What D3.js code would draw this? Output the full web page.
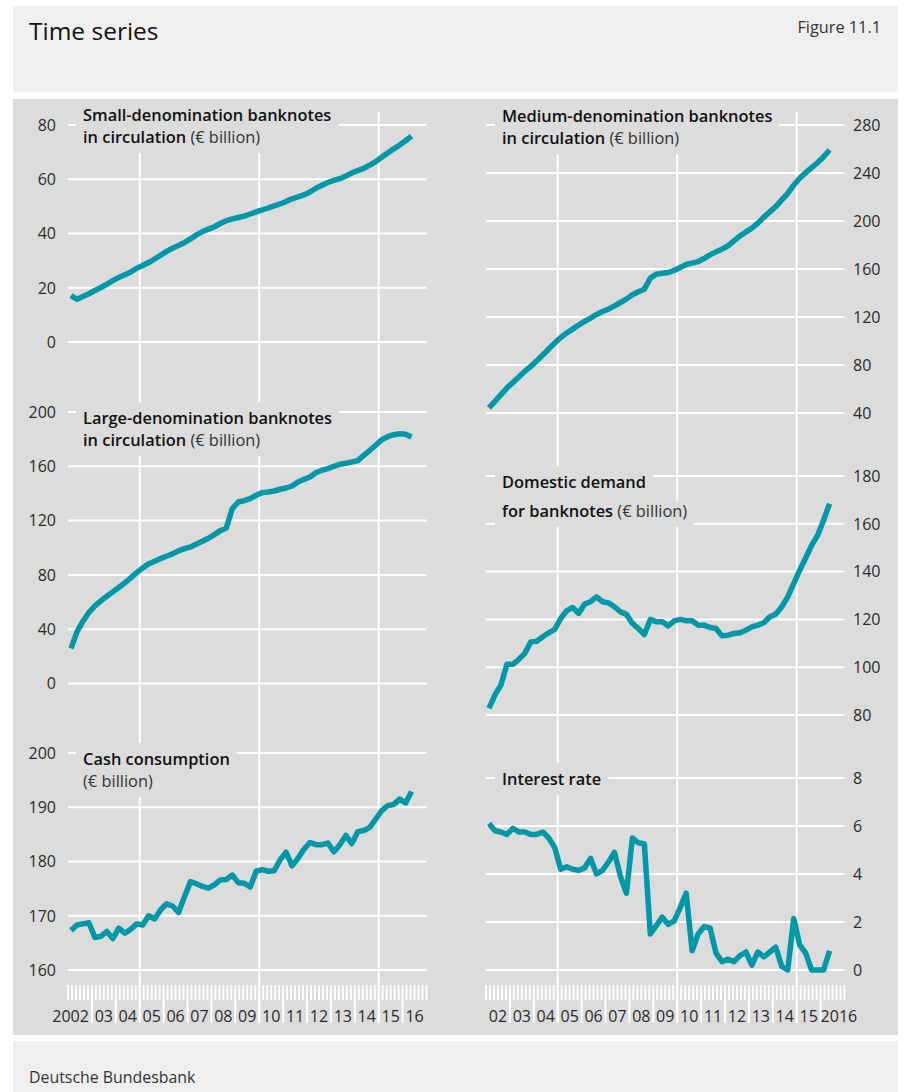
<!DOCTYPE html>
<html><head><meta charset="utf-8">
<script src="https://cdn.jsdelivr.net/npm/d3@7"></script>
<style>
body{margin:0;background:#fff;}
svg{display:block;}
text{font-family:"Open Sans",sans-serif;}
</style>
</head><body>
<svg id="chart" width="911" height="1092"></svg>
<script>
// ---------------- DATA (quarterly, 2002Q1 – 2016Q2) ----------------
const startYear = 2002;
const endYear = 2017;

const smallDenom = [17.1,15.8,16.8,17.8,19.0,20.1,21.3,22.6,23.8,24.8,25.8,27.2,28.2,29.3,30.6,32.0,33.4,34.6,35.6,36.7,38.0,39.5,40.7,41.6,42.5,43.7,44.7,45.4,45.9,46.4,47.2,48.0,48.7,49.4,50.2,50.9,51.8,52.8,53.5,54.2,55.3,56.7,57.8,58.8,59.6,60.2,61.2,62.3,63.2,64.0,65.2,66.5,68.1,69.7,71.2,72.6,74.2,75.9];

const largeDenom = [25.8,38.0,45.9,52.3,57.2,60.9,64.3,67.5,70.7,74.1,77.8,81.7,85.2,88.1,90.1,92.0,93.7,95.5,97.7,99.4,100.6,102.8,104.8,107.0,109.7,112.6,114.6,128.8,133.7,134.7,136.2,138.7,140.6,141.1,141.8,143.1,144.0,145.5,148.5,150.4,152.1,155.3,157.1,158.3,160.0,161.5,162.2,163.2,164.2,168.1,171.8,175.5,179.6,181.8,183.3,184.0,183.6,181.6];

const cashConsumption = [167.3,168.3,168.5,168.7,166.0,166.2,167.1,165.8,167.7,166.8,167.5,168.5,168.3,170.0,169.4,171.1,172.2,171.8,170.6,173.5,176.3,175.9,175.4,175.1,175.7,176.6,176.7,177.5,176.1,176.0,175.3,178.2,178.5,178.2,178.3,180.3,181.7,179.2,180.6,182.3,183.5,183.1,183.1,183.4,181.8,183.1,184.8,183.3,185.5,185.7,186.3,187.8,189.4,190.3,190.5,191.5,190.8,192.9];

const mediumDenom = [44.2,49.7,55.3,60.8,65.5,70.0,74.7,78.8,83.6,88.3,93.3,98.3,103.0,106.6,109.9,113.3,116.3,119.1,122.1,124.6,126.6,129.3,132.1,134.9,138.5,141.0,143.2,152.4,155.7,156.5,157.1,158.8,161.3,163.8,164.9,166.2,168.7,171.8,174.3,176.5,179.3,183.5,187.6,190.9,194.0,198.2,203.2,207.6,212.0,217.6,223.1,229.8,235.6,240.3,244.5,248.7,253.6,259.2];

const domesticDemand = [82.8,88.4,92.5,101.2,101.2,103.3,105.8,110.6,110.9,112.7,114.4,115.8,120.4,123.6,125.0,122.5,126.4,127.4,129.4,127.4,126.9,125.3,123.2,122.1,118.3,116.2,113.7,120.0,119.0,119.0,117.3,119.4,120.0,119.4,119.4,117.6,117.6,116.6,116.2,113.1,113.4,114.1,114.4,115.5,116.9,117.6,118.6,121.1,122.2,125.3,129.4,135.0,140.6,145.7,151.0,155.2,161.5,168.4];

const interestRate = [6.1,5.8,5.75,5.65,5.9,5.75,5.75,5.65,5.65,5.75,5.5,5.1,4.2,4.3,4.2,4.15,4.25,4.65,4.0,4.15,4.5,4.9,3.9,3.2,5.5,5.3,5.25,1.5,1.85,2.2,1.9,2.05,2.6,3.2,0.8,1.5,1.8,1.75,0.7,0.35,0.45,0.35,0.6,0.75,0.2,0.75,0.55,0.75,0.95,0.15,0.0,2.15,1.05,0.7,0.0,0.0,0.0,0.8];

// tick labels
const smallTicks = [0,20,40,60,80];
const largeTicks = [0,40,80,120,160,200];
const cashTicks = [160,170,180,190,200];
const mediumTicks = [40,80,120,160,200,240,280];
const domesticTicks = [80,100,120,140,160,180];
const interestTicks = [0,2,4,6,8];
const leftYearLabels = ["2002","03","04","05","06","07","08","09","10","11","12","13","14","15","16"];
const rightYearLabels = ["02","03","04","05","06","07","08","09","10","11","12","13","14","15","2016"];
const gridYears = [2005,2010,2015];

// quarter categories
const quarters = smallDenom.map((_, i) => ({year: startYear + Math.floor(i/4), q: i%4 + 1}));
const quarterMid = d => d.year + (d.q - 0.5) / 4;

// ---------------- LAYOUT ----------------
const svg = d3.select("#chart");
const lineColor = "#0097a7";
const gridColor = "#ffffff";
const textColor = "#1e1e1e";

svg.append("rect").attr("x",13).attr("y",6).attr("width",885).attr("height",86).attr("fill","#efefef");
svg.append("rect").attr("x",13).attr("y",99).attr("width",885).attr("height",936).attr("fill","#dcdcdc");
svg.append("rect").attr("x",13).attr("y",1041).attr("width",885).attr("height",60).attr("fill","#efefef");

svg.append("text").attr("x",29).attr("y",40).attr("font-size",24.5).attr("fill","#111").text("Time series");
svg.append("text").attr("x",881).attr("y",33).attr("text-anchor","end").attr("font-size",16.3).attr("fill","#333").text("Figure 11.1");
svg.append("text").attr("x",29).attr("y",1083).attr("font-size",15.9).attr("fill","#333").text("Deutsche Bundesbank");

const xLeft = d3.scaleLinear().domain([startYear, endYear]).range([68, 426.5]);
const xRight = d3.scaleLinear().domain([startYear, endYear]).range([486, 844.5]);

const panels = [
  {side:"left", data:smallDenom, ticks:smallTicks, domain:[0,80], range:[342,125],
   title:[[["Small-denomination banknotes",true]],[["in circulation ",true],["(€ billion)",false]]], base:[121,143]},
  {side:"left", data:largeDenom, ticks:largeTicks, domain:[0,200], range:[683.5,412],
   title:[[["Large-denomination banknotes",true]],[["in circulation ",true],["(€ billion)",false]]], base:[424,446]},
  {side:"left", data:cashConsumption, ticks:cashTicks, domain:[160,200], range:[970,753],
   title:[[["Cash consumption",true]],[["(€ billion)",false]]], base:[765,787]},
  {side:"right", data:mediumDenom, ticks:mediumTicks, domain:[40,280], range:[413,125],
   title:[[["Medium-denomination banknotes",true]],[["in circulation ",true],["(€ billion)",false]]], base:[122,144]},
  {side:"right", data:domesticDemand, ticks:domesticTicks, domain:[80,180], range:[715,476],
   title:[[["Domestic demand",true]],[["for banknotes ",true],["(€ billion)",false]]], base:[488,517]},
  {side:"right", data:interestRate, ticks:interestTicks, domain:[0,8], range:[970,778],
   title:[[["Interest rate",true]]], base:[785]}
];

const gGrid = svg.append("g");
const gVert = svg.append("g");
const gMask = svg.append("g");
const gTitle = svg.append("g");
const gLines = svg.append("g");
const gLabels = svg.append("g");

// horizontal gridlines + y labels
panels.forEach(p => {
  const x = p.side === "left" ? xLeft : xRight;
  p.y = d3.scaleLinear().domain(p.domain).range(p.range);
  gGrid.selectAll(null).data(p.ticks).join("line")
    .attr("x1", x(startYear)).attr("x2", x(endYear))
    .attr("y1", d => p.y(d)).attr("y2", d => p.y(d))
    .attr("stroke", gridColor).attr("stroke-width", 2);
  gLabels.selectAll(null).data(p.ticks).join("text")
    .attr("x", p.side === "left" ? 56 : 853)
    .attr("y", d => p.y(d)).attr("dy", "0.36em")
    .attr("text-anchor", p.side === "left" ? "end" : "start")
    .attr("font-size", 16).attr("fill", "#2a2a2a")
    .text(d => d);
});

// vertical gridlines + bottom ticks + year labels
[xLeft, xRight].forEach((x, si) => {
  gVert.selectAll(null).data(gridYears).join("line")
    .attr("x1", d => x(d)).attr("x2", d => x(d))
    .attr("y1", 112).attr("y2", 1023)
    .attr("stroke", gridColor).attr("stroke-width", 2);
  const minor = d3.range(0, (endYear - startYear) * 6 + 1).map(k => startYear + k / 6);
  gVert.selectAll(null).data(minor).join("line")
    .attr("x1", d => x(d)).attr("x2", d => x(d))
    .attr("y1", 985)
    .attr("y2", (d, k) => (k % 6 === 0 && k > 0 && k < minor.length - 1) ? 1023 : 1000)
    .attr("stroke", gridColor).attr("stroke-width", 2);
  const labels = si === 0 ? leftYearLabels : rightYearLabels;
  gLabels.selectAll(null).data(labels).join("text")
    .attr("x", (d, k) => {
      if (si === 0 && k === 0) return x(startYear + 1) - 3;
      if (si === 1 && k === labels.length - 1) return x(startYear + k) + 0;
      return x(startYear + k + 0.5);
    })
    .attr("y", 1022)
    .attr("text-anchor", (d, k) => (si === 0 && k === 0) ? "end" : (si === 1 && k === labels.length - 1) ? "start" : "middle")
    .attr("font-size", 16).attr("fill", "#2a2a2a")
    .text(d => d);
});

// titles with background masks
panels.forEach(p => {
  const x0 = p.side === "left" ? 83 : 502;
  const nodes = [];
  p.title.forEach((line, j) => {
    const t = gTitle.append("text").attr("x", x0).attr("y", p.base[j])
      .attr("font-size", 16.4).attr("fill", textColor);
    line.forEach(([s, bold]) => {
      t.append("tspan").attr("font-weight", bold ? 600 : 400)
        .attr("fill", bold ? "#111" : "#333").text(s);
    });
    nodes.push(t);
  });
  nodes.forEach((t, j) => {
    const w = t.node().getComputedTextLength();
    const top = j === 0 ? p.base[0] - 22 : p.base[j] - 16;
    const bottom = j === nodes.length - 1 ? p.base[j] + 10 : p.base[j + 1] - 16;
    gMask.append("rect").attr("x", x0 - 7).attr("y", top)
      .attr("width", w + 14).attr("height", bottom - top)
      .attr("fill", "#dcdcdc");
  });
});

// series lines
panels.forEach(p => {
  const x = p.side === "left" ? xLeft : xRight;
  const line = d3.line()
    .x((d, i) => x(quarterMid(quarters[i])))
    .y(d => p.y(d));
  gLines.append("path").datum(p.data)
    .attr("d", line).attr("fill", "none")
    .attr("stroke", lineColor).attr("stroke-width", 5.5)
    .attr("stroke-linejoin", "round").attr("stroke-linecap", "butt");
});
</script>
</body></html>
